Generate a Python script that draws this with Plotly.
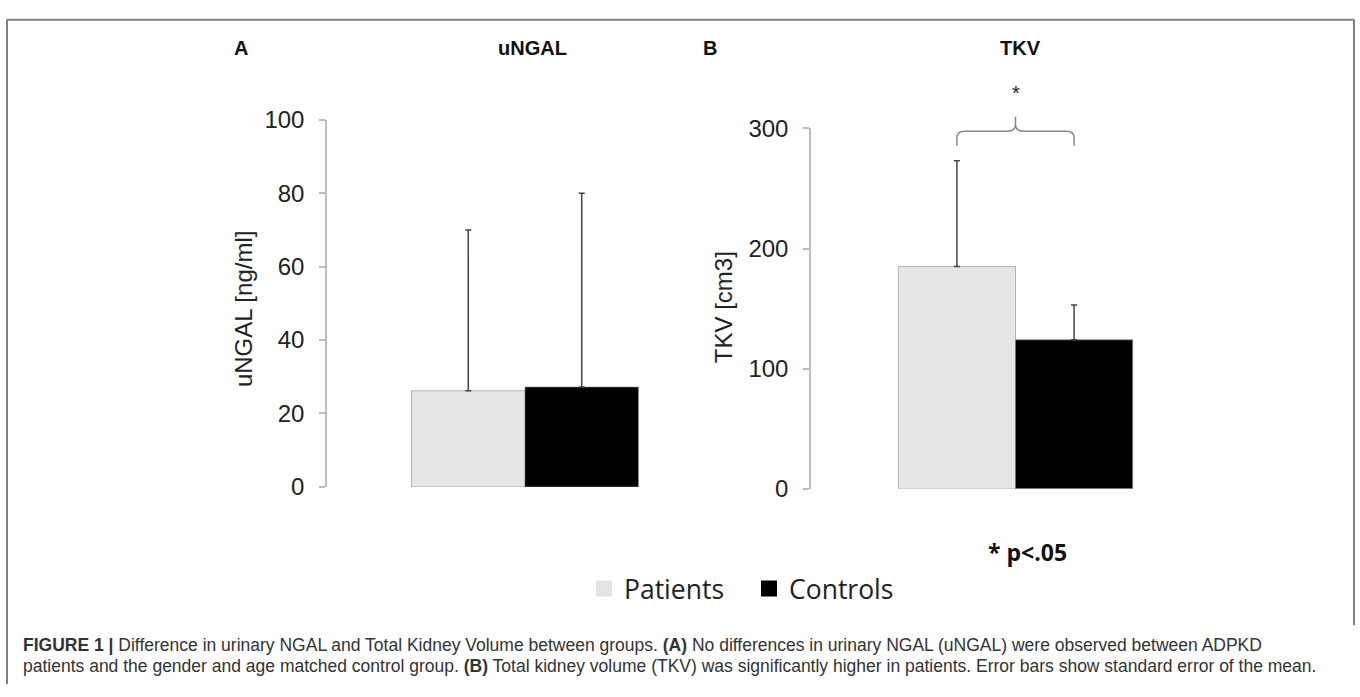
import plotly.graph_objects as go

groups = ["Patients", "Controls"]
colors = ["#e6e6e6", "#000000"]
legend_colors = ["#e3e3e3", "#000000"]

ungal_mean = [26.2, 27.2]
ungal_err = [43.8, 52.8]
tkv_mean = [185.0, 124.0]
tkv_err = [88.0, 29.0]

ungal_ticks = [0, 20, 40, 60, 80, 100]
tkv_ticks = [0, 100, 200, 300]

W, H = 1360, 697
def px(x):
    return x / W
def py(y):
    return 1 - y / H

BARGAP = 0.427
TICKFONT = dict(family="Liberation Sans, Arial", size=24, color="#222")

fig = go.Figure()
for i, g in enumerate(groups):
    fig.add_trace(go.Bar(
        x=[0], y=[ungal_mean[i]], name=g, marker=dict(color=colors[i], line=dict(color="#888", width=0.6)),
        error_y=dict(type="data", array=[ungal_err[i]], arrayminus=[0], symmetric=False,
                     color="#444", thickness=1.5, width=3),
        xaxis="x", yaxis="y", offsetgroup=g, showlegend=False, legendgroup=g))
for i, g in enumerate(groups):
    fig.add_trace(go.Bar(
        x=[0], y=[tkv_mean[i]], name=g, marker=dict(color=colors[i], line=dict(color="#888", width=0.6)),
        error_y=dict(type="data", array=[tkv_err[i]], arrayminus=[0], symmetric=False,
                     color="#444", thickness=1.5, width=3),
        xaxis="x2", yaxis="y2", offsetgroup=g, showlegend=False, legendgroup=g))
# legend keys (larger square swatches, as in the original)
for i, g in enumerate(groups):
    fig.add_trace(go.Scatter(
        x=[None], y=[None], mode="markers", name=g, legendgroup=g, showlegend=True,
        marker=dict(symbol="square", size=17, color=legend_colors[i], line=dict(width=0)),
        xaxis="x", yaxis="y"))

yax = dict(showgrid=False, zeroline=False, showline=True, linecolor="#bdbdbd", linewidth=1.5,
           ticks="outside", ticklen=6, tickcolor="#bdbdbd", tickwidth=1.5, tickfont=TICKFONT,
           ticklabelstandoff=10)
xax = dict(type="linear", range=[-0.5, 0.5], showgrid=False, zeroline=False, showline=False,
           showticklabels=False, ticks="")

fig.update_layout(
    width=W, height=H, autosize=False,
    margin=dict(l=0, r=0, t=0, b=0),
    paper_bgcolor="white", plot_bgcolor="white",
    barmode="group", bargap=BARGAP, bargroupgap=0,
    xaxis=dict(domain=[px(327), px(723)], anchor="y", **xax),
    yaxis=dict(domain=[py(492), py(110)], anchor="x", range=[0, 100], tickvals=ungal_ticks, **yax),
    xaxis2=dict(domain=[px(811), px(1220)], anchor="y2", **xax),
    yaxis2=dict(domain=[py(494), py(119)], anchor="x2", range=[0, 300], tickvals=tkv_ticks, **yax),
    legend=dict(orientation="h", x=px(584), xanchor="left", y=py(598), yanchor="middle",
                font=dict(family="Open Sans", size=26.5, color="#222"), itemwidth=30,
                itemsizing="trace", entrywidth=120, entrywidthmode="pixels",
                traceorder="normal", bgcolor="rgba(0,0,0,0)"),
)

bold = dict(family="Liberation Sans, Arial", size=20, color="#111")
ann = [
    dict(text="<b>A</b>", x=px(241), y=py(35), font=bold),
    dict(text="<b>uNGAL</b>", x=px(532), y=py(35), font=bold),
    dict(text="<b>B</b>", x=px(710), y=py(35), font=bold),
    dict(text="<b>TKV</b>", x=px(1020), y=py(35), font=bold),
    dict(text="uNGAL [ng/ml]", x=px(243), y=py(307), textangle=-90, font=TICKFONT),
    dict(text="TKV [cm3]", x=px(723), y=py(305), textangle=-90, font=TICKFONT),
    dict(text="<b>* p<.05</b>", x=px(1027), y=py(560), font=dict(family="Open Sans", size=23, color="#111")),
]
for a in ann:
    a.update(xref="paper", yref="paper", showarrow=False, xanchor="center", yanchor="middle")
    fig.add_annotation(**a)

# significance star over the TKV bars
fig.add_annotation(text="*", x=0, xref="x2", y=py(82), yref="paper", showarrow=False,
                   font=dict(family="Liberation Sans, Arial", size=20, color="#222"),
                   xanchor="center", yanchor="middle")

cap_font = dict(family="Liberation Sans, Arial", size=17.5, color="#333")
cap1 = ("<b>FIGURE 1 |</b> Difference in urinary NGAL and Total Kidney Volume between groups. "
        "<b>(A)</b> No differences in urinary NGAL (uNGAL) were observed between ADPKD")
cap2 = ("patients and the gender and age matched control group. <b>(B)</b> Total kidney volume (TKV) "
        "was significantly higher in patients. Error bars show standard error of the mean.")
for txt, yy in [(cap1, 656), (cap2, 678)]:
    fig.add_annotation(text=txt, x=px(21), y=py(yy), xref="paper", yref="paper", showarrow=False,
                       xanchor="left", yanchor="middle", font=cap_font, align="left")

# bracket between bar centres of panel B
h = (1 - BARGAP) / 4
yh, ye, yt = py(122), py(137), py(107)
dx, dy = 0.02, 0.01
path = (f"M {-h},{ye} L {-h},{yh-dy} Q {-h},{yh} {-h+dx},{yh} L {-dx},{yh} Q 0,{yh} 0,{yh+dy} L 0,{yt} "
        f"M 0,{yh+dy} Q 0,{yh} {dx},{yh} L {h-dx},{yh} Q {h},{yh} {h},{yh-dy} L {h},{ye}")
fig.add_shape(type="path", path=path, xref="x2", yref="paper", line=dict(color="#888", width=1.5))

# outer frame
frame = dict(color="#808080", width=2)
fig.add_shape(type="line", xref="paper", yref="paper", x0=px(7), x1=px(7), y0=py(6), y1=0, line=frame)
fig.add_shape(type="line", xref="paper", yref="paper", x0=px(7), x1=px(1354), y0=py(6), y1=py(6), line=frame)
fig.add_shape(type="line", xref="paper", yref="paper", x0=px(1354), x1=px(1354), y0=py(6), y1=py(636), line=frame)

fig.write_html("out.html", config={"displayModeBar": False},
               post_script="document.body.style.margin='0';document.body.style.overflow='hidden';")
